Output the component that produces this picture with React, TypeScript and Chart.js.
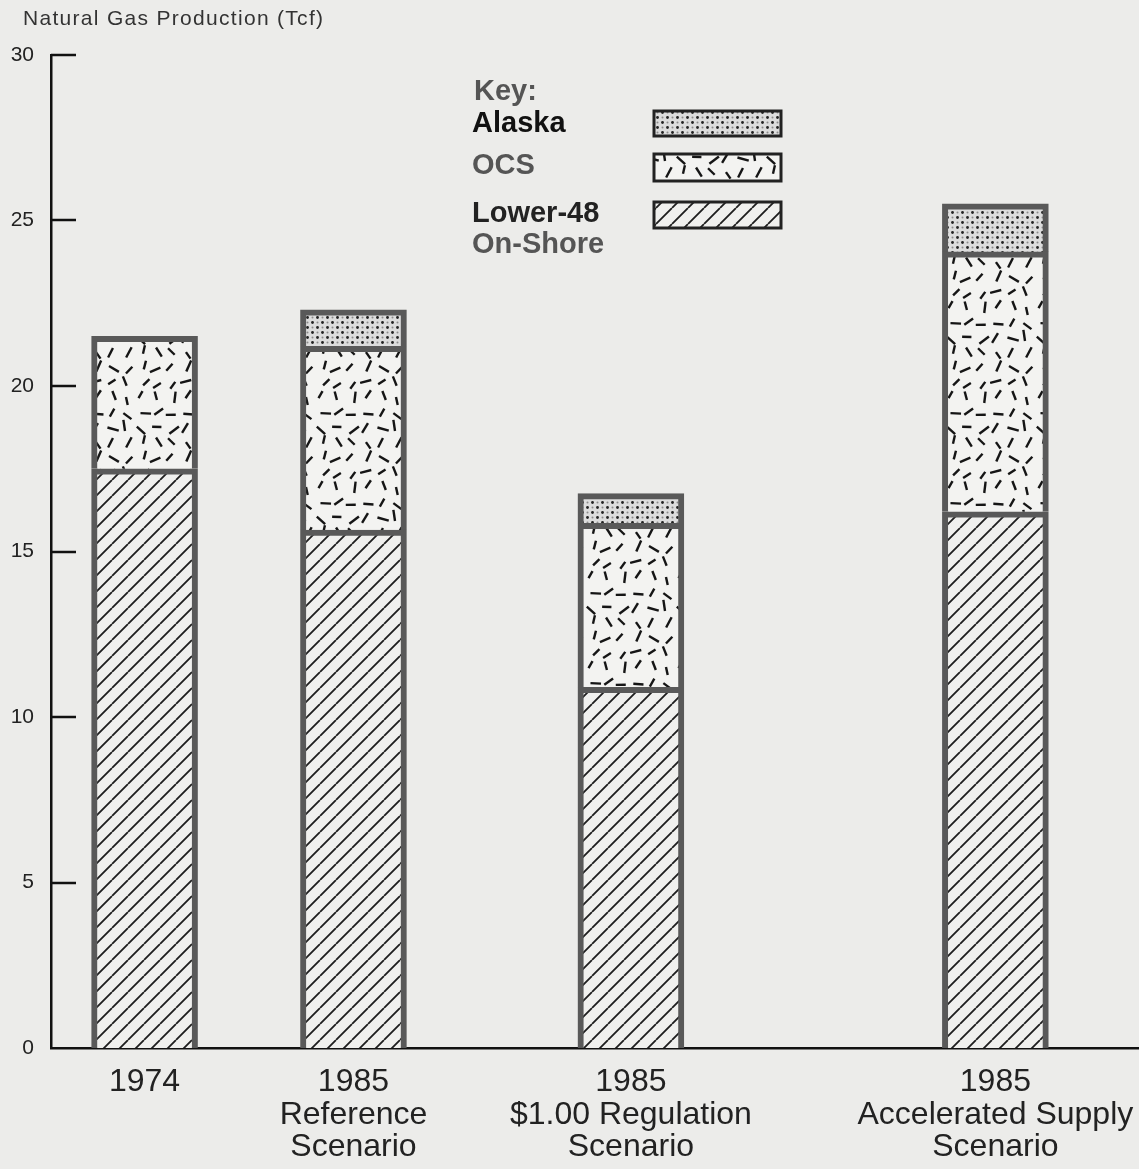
import React, { useEffect, useRef } from 'react';
import { Chart, registerables } from 'chart.js';
Chart.register(...registerables);

const FONT = '"Liberation Sans", Arial, Helvetica, sans-serif';

// ---- data ----
const categories: string[][] = [
  ['1974'],
  ['1985', 'Reference', 'Scenario'],
  ['1985', '$1.00 Regulation', 'Scenario'],
  ['1985', 'Accelerated Supply', 'Scenario'],
];
const categoryPositions = [8.6, 27.8, 53.3, 86.8];
const lower48 = [17.5, 15.65, 10.9, 16.2];
const ocs = [4.0, 5.55, 4.95, 7.85];
const alaska: (number | null)[] = [null, 1.1, 0.9, 1.45];
const yTickValues = [0, 5, 10, 15, 20, 25, 30];
const seriesNames = ['Alaska', 'OCS', 'Lower-48', 'On-Shore'];
const yTitle = 'Natural Gas Production (Tcf)';

function tile(w: number, h: number) {
  const c = document.createElement('canvas');
  c.width = w;
  c.height = h;
  return c;
}

function dotPattern(ctx: CanvasRenderingContext2D) {
  const c = tile(10, 10);
  const g = c.getContext('2d')!;
  g.fillStyle = '#dcdcdc';
  g.fillRect(0, 0, 10, 10);
  const pts = [[2.5, 2.5], [7.5, 7.5], [7.5, 2.5], [2.5, 7.5]];
  pts.forEach(([x, y], i) => {
    g.beginPath();
    g.arc(x, y, i < 2 ? 1.4 : 1.0, 0, Math.PI * 2);
    g.fillStyle = i < 2 ? '#222' : '#8a8a8a';
    g.fill();
  });
  return ctx.createPattern(c, 'repeat')!;
}

function hatchPattern(ctx: CanvasRenderingContext2D) {
  const s = 16;
  const c = tile(s, s);
  const g = c.getContext('2d')!;
  g.fillStyle = '#f0f0ee';
  g.fillRect(0, 0, s, s);
  g.strokeStyle = '#1e1e1e';
  g.lineWidth = 1.8;
  g.beginPath();
  for (const o of [-s, 0, s]) {
    g.moveTo(o, s);
    g.lineTo(o + s, 0);
  }
  g.stroke();
  return ctx.createPattern(c, 'repeat')!;
}

function dashPattern(ctx: CanvasRenderingContext2D) {
  const s = 90;
  const c = tile(s, s);
  const g = c.getContext('2d')!;
  g.fillStyle = '#f3f3f1';
  g.fillRect(0, 0, s, s);
  let seed = 12345;
  const rnd = () => {
    seed = (seed * 1103515245 + 12345) % 2147483648;
    return seed / 2147483648;
  };
  g.strokeStyle = '#151515';
  g.lineWidth = 2.4;
  g.lineCap = 'butt';
  const cols = 6, rows = 6;
  for (let r = 0; r < rows; r++) {
    for (let q = 0; q < cols; q++) {
      const cx = (q + 0.5) * (s / cols) + (rnd() - 0.5) * 8;
      const cy = (r + 0.5) * (s / rows) + (rnd() - 0.5) * 8;
      const a = rnd() * Math.PI;
      const len = 8 + rnd() * 4;
      const dx = Math.cos(a) * len / 2, dy = Math.sin(a) * len / 2;
      for (const ox of [-s, 0, s]) for (const oy of [-s, 0, s]) {
        g.beginPath();
        g.moveTo(cx - dx + ox, cy - dy + oy);
        g.lineTo(cx + dx + ox, cy + dy + oy);
        g.stroke();
      }
    }
  }
  return ctx.createPattern(c, 'repeat')!;
}

export default function App() {
  const ref = useRef<HTMLCanvasElement | null>(null);
  useEffect(() => {
    const canvas = ref.current!;
    const ctx = canvas.getContext('2d')!;
    const pDots = dotPattern(ctx);
    const pDash = dashPattern(ctx);
    const pHatch = hatchPattern(ctx);
    const BORDER = '#595959';

    const overlay = {
      id: 'overlay',
      afterDraw(chart: any) {
        const c = chart.ctx as CanvasRenderingContext2D;
        const y = chart.scales.y;
        const left = chart.chartArea.left;
        c.save();
        // inward ticks
        c.strokeStyle = '#111';
        c.lineWidth = 2.5;
        yTickValues.forEach((v) => {
          if (v === 0) return;
          const py = Math.round(y.getPixelForValue(v));
          c.beginPath();
          c.moveTo(left, py);
          c.lineTo(left + 25, py);
          c.stroke();
        });
        // y title
        c.fillStyle = '#333';
        c.font = `21px ${FONT}`;
        (c as any).letterSpacing = '1.3px';
        c.textBaseline = 'middle';
        c.textAlign = 'left';
        c.fillText(yTitle, 23, 19);
        (c as any).letterSpacing = '0px';
        // legend
        c.font = `bold 29px ${FONT}`;
        c.fillStyle = '#555';
        c.fillText('Key:', 474, 92);
        c.fillStyle = '#111';
        c.fillText(seriesNames[0], 472, 124);
        c.fillStyle = '#555';
        c.fillText(seriesNames[1], 472, 166);
        c.fillStyle = '#222';
        c.fillText(seriesNames[2], 472, 214);
        c.fillStyle = '#555';
        c.fillText(seriesNames[3], 472, 245);
        const sw = [
          { p: pDots, y: 111, h: 25 },
          { p: pDash, y: 154, h: 27 },
          { p: pHatch, y: 202, h: 26 },
        ];
        sw.forEach((s) => {
          c.fillStyle = s.p;
          c.fillRect(654, s.y, 127, s.h);
          c.strokeStyle = '#222';
          c.lineWidth = 3;
          c.strokeRect(654, s.y, 127, s.h);
        });
        c.restore();
      },
    };

    const mk = (vals: (number | null)[]) =>
      vals.map((v, i) => ({ x: categoryPositions[i], y: v }));

    const chart = new Chart(canvas, {
      type: 'bar',
      data: {
        datasets: [
          { label: 'Lower-48 On-Shore', data: mk(lower48) as any, backgroundColor: pHatch as any, borderColor: BORDER, borderWidth: 6 },
          { label: 'OCS', data: mk(ocs) as any, backgroundColor: pDash as any, borderColor: BORDER, borderWidth: 6 },
          { label: 'Alaska', data: mk(alaska) as any, backgroundColor: pDots as any, borderColor: BORDER, borderWidth: 6 },
        ],
      },
      options: {
        animation: false,
        responsive: false,
        maintainAspectRatio: false,
        datasets: { bar: { barThickness: 106 } } as any,
        layout: { padding: { top: 55, left: 0, right: 0, bottom: 0 } },
        plugins: { legend: { display: false }, tooltip: { enabled: false } },
        scales: {
          x: {
            type: 'linear',
            min: 0,
            max: 100,
            offset: false,
            stacked: true,
            afterBuildTicks: (s: any) => {
              s.ticks = categoryPositions.map((v) => ({ value: v }));
            },
            afterFit: (s: any) => {
              s.height = 121;
              s.paddingLeft = 0;
              s.paddingRight = 0;
            },
            grid: { display: false, drawTicks: false, offset: false },
            border: { display: true, color: '#111', width: 2.5 },
            ticks: {
              autoSkip: false,
              maxRotation: 0,
              padding: 18,
              color: '#222',
              font: { family: FONT, size: 32, lineHeight: 1.02 },
              callback: (v: any) => {
                const i = categoryPositions.indexOf(Number(v));
                return i >= 0 ? categories[i] : '';
              },
            },
          } as any,
          y: {
            min: 0,
            max: 30,
            stacked: true,
            afterFit: (s: any) => {
              s.width = 51;
            },
            grid: { display: false, drawTicks: false },
            border: { display: true, color: '#111', width: 2.5 },
            ticks: {
              stepSize: 5,
              padding: 17,
              color: '#222',
              font: { family: FONT, size: 21 },
            },
          },
        },
      },
      plugins: [overlay],
    });
    return () => chart.destroy();
  }, []);

  return (
    <div style={{ position: 'absolute', left: 0, top: 0, width: 1139, height: 1169, background: '#ececea' }}>
      <canvas ref={ref} width={1139} height={1169} style={{ display: 'block' }} />
    </div>
  );
}
